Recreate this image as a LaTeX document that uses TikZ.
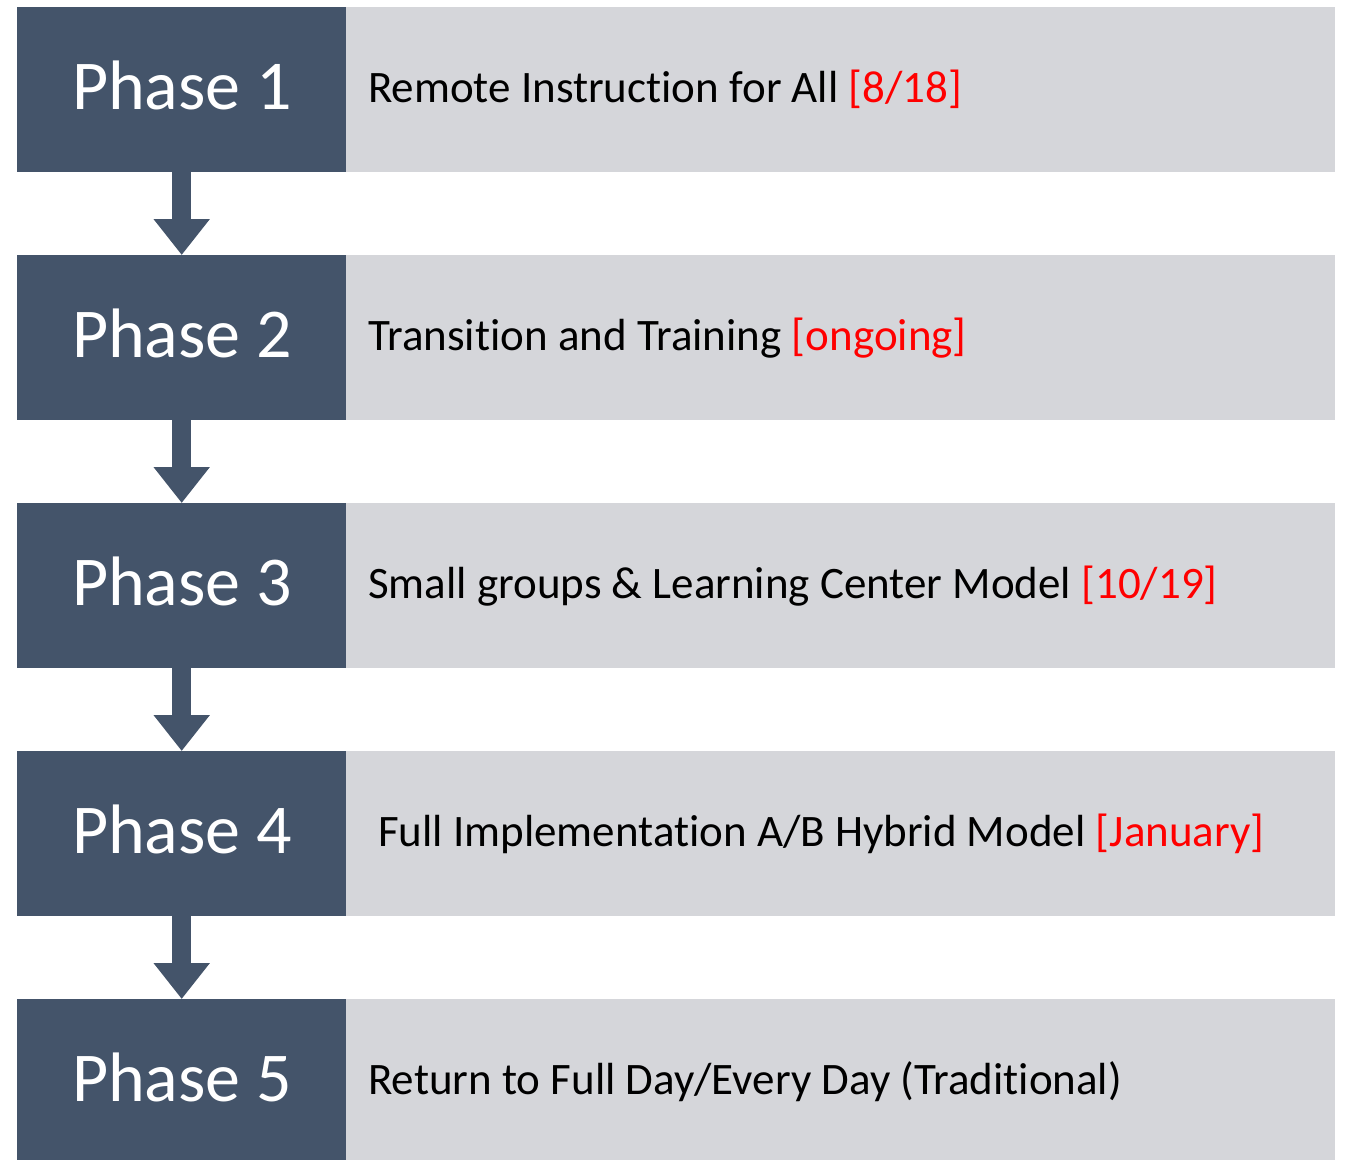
\documentclass[tikz,border=0pt]{standalone}
\usepackage{fontspec}
\setmainfont{Carlito}[Ligatures=NoCommon]
\usetikzlibrary{arrows.meta}
\definecolor{darkslate}{HTML}{44546A}
\definecolor{lightpanel}{HTML}{D5D6DA}
\definecolor{datered}{HTML}{FF0000}
\begin{document}
\begin{tikzpicture}[x=1pt,y=-1pt,
  darkbox/.style={fill=darkslate, draw=none, inner sep=0pt, minimum width=329pt, minimum height=165pt, anchor=north west},
  graybox/.style={fill=lightpanel, draw=none, inner sep=0pt, minimum width=989pt, minimum height=165pt, anchor=north west},
  phaselbl/.style={text=white, inner sep=0pt, anchor=base, font=\fontsize{70}{84}\selectfont},
  bodylbl/.style={text=black, inner sep=0pt, anchor=base west, font=\fontsize{45}{54}\selectfont},
  flowarrow/.style={draw=darkslate, line width=19pt, -{Triangle[width=54pt,length=36pt]}}
]
\useasboundingbox (0,0) rectangle (1345,1160);
\fill[white] (0,0) rectangle (1345,1160);
% boxes
\node[graybox] (g1) at (346,7) {};
\node[graybox] (g2) at (346,255) {};
\node[graybox] (g3) at (346,503) {};
\node[graybox] (g4) at (346,751) {};
\node[graybox] (g5) at (346,999) {};
\node[darkbox] (p1) at (17,7) {};
\node[darkbox] (p2) at (17,255) {};
\node[darkbox] (p3) at (17,503) {};
\node[darkbox] (p4) at (17,751) {};
\node[darkbox] (p5) at (17,999) {};
% phase labels
\node[phaselbl] (l1) at (182,109) {Phase 1};
\node[phaselbl] (l2) at (182,357) {Phase 2};
\node[phaselbl] (l3) at (182,605) {Phase 3};
\node[phaselbl] (l4) at (182,853) {Phase 4};
\node[phaselbl] (l5) at (182,1101) {Phase 5};
% body texts
\node[bodylbl] (t1) at (368,102) {Remote Instruction for All \textcolor{datered}{[8/18]}};
\node[bodylbl] (t2) at (368,350) {Transition and Training \textcolor{datered}{[ongoing]}};
\node[bodylbl] (t3) at (368,598) {Small groups \& Learning Center Model \textcolor{datered}{[10/19]}};
\node[bodylbl] (t4) at (378,846) {Full Implementation A/B Hybrid Model \textcolor{datered}{[January]}};
\node[bodylbl] (t5) at (368,1094) {Return to Full Day/Every Day (Traditional)};
% arrows
\draw[flowarrow] (p1.south) -- (p2.north);
\draw[flowarrow] (p2.south) -- (p3.north);
\draw[flowarrow] (p3.south) -- (p4.north);
\draw[flowarrow] (p4.south) -- (p5.north);
\end{tikzpicture}
\end{document}
